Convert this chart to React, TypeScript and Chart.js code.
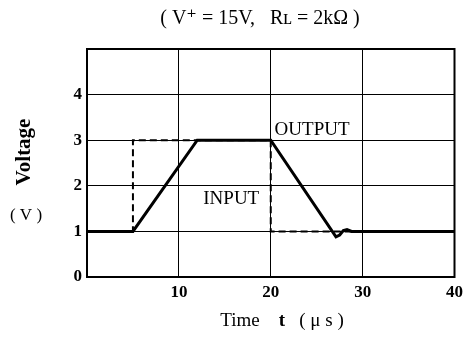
import React, { useEffect, useRef } from "react";
import { Chart, registerables } from "chart.js";

Chart.register(...registerables);

const inputT = [0, 5, 5, 20, 20, 40];
const inputV = [1, 1, 3, 3, 1, 1];
const outputT = [0, 5, 12, 20, 27.1, 27.5, 27.9, 28.3, 28.8, 40];
const outputV = [1, 1, 3, 3, 0.88, 0.92, 1.02, 1.04, 1, 1];
const xTicks = [10, 20, 30, 40];
const yTicks = [0, 1, 2, 3, 4];

const SERIF = "'Liberation Serif', 'DejaVu Serif', serif";

const textPlugin = {
  id: "texts",
  afterDraw(chart: any) {
    const { ctx, chartArea, scales } = chart;
    const x = scales.x;
    const y = scales.y;
    ctx.save();
    // frame
    ctx.strokeStyle = "#000";
    ctx.lineWidth = 2;
    ctx.strokeRect(chartArea.left, chartArea.top, chartArea.right - chartArea.left, chartArea.bottom - chartArea.top);
    ctx.fillStyle = "#000";
    ctx.textAlign = "center";
    ctx.textBaseline = "middle";
    // subtitle
    ctx.font = `20px ${SERIF}`;
    ctx.fillText("( V\u207A = 15V,   R\u029F = 2k\u03A9 )", 260, 19);
    // labels
    ctx.font = `19px ${SERIF}`;
    ctx.fillText("OUTPUT", x.getPixelForValue(24.5), y.getPixelForValue(3.22));
    ctx.fillText("INPUT", x.getPixelForValue(15.7), y.getPixelForValue(1.71));
    // y title
    ctx.save();
    ctx.translate(25, 152);
    ctx.rotate(-Math.PI / 2);
    ctx.font = `bold 21px ${SERIF}`;
    ctx.fillText("Voltage", 0, 0);
    ctx.restore();
    ctx.font = `17px ${SERIF}`;
    ctx.fillText("( V )", 26, 216);
    // x title, with bold "t"
    const parts = [
      { s: "Time    ", f: `19px ${SERIF}` },
      { s: "t", f: `bold 19px ${SERIF}` },
      { s: "   ( \u03BC s )", f: `19px ${SERIF}` },
    ];
    let total = 0;
    for (const p of parts) { ctx.font = p.f; total += ctx.measureText(p.s).width; }
    let cx = 282 - total / 2;
    ctx.textAlign = "left";
    for (const p of parts) {
      ctx.font = p.f;
      ctx.fillText(p.s, cx, 321);
      cx += ctx.measureText(p.s).width;
    }
    ctx.restore();
  },
};

export default function App() {
  const ref = useRef<HTMLCanvasElement>(null);
  useEffect(() => {
    if (!ref.current) return;
    const chart = new Chart(ref.current, {
      type: "line",
      data: {
        datasets: [
          {
            label: "OUTPUT",
            data: outputT.map((t, i) => ({ x: t, y: outputV[i] })),
            borderColor: "#000",
            borderWidth: 3,
            pointRadius: 0,
            tension: 0,
            order: 0,
          },
          {
            label: "INPUT",
            data: inputT.map((t, i) => ({ x: t, y: inputV[i] })),
            borderColor: "#000",
            borderWidth: 2,
            borderDash: [7, 4],
            pointRadius: 0,
            tension: 0,
            order: 1,
          },
        ],
      },
      options: {
        animation: false,
        responsive: false,
        layout: { padding: { top: 49, right: 12, left: 0, bottom: 0 } },
        plugins: { legend: { display: false }, title: { display: false }, tooltip: { enabled: false } },
        scales: {
          x: {
            type: "linear",
            min: 0,
            max: 40,
            afterFit: (s: any) => { s.height = 61; },
            afterBuildTicks: (s: any) => { s.ticks = [0, ...xTicks].map((v) => ({ value: v })); },
            ticks: {
              padding: 5,
              color: "#000",
              font: { family: SERIF, size: 17, weight: "bold" },
              callback: (v: any) => (v === 0 ? "" : String(v)),
            },
            grid: { color: "#000", lineWidth: 1, drawTicks: false },
            border: { display: true, color: "#000", width: 2 },
          },
          y: {
            type: "linear",
            min: 0,
            max: 5,
            afterFit: (s: any) => { s.width = 87; },
            afterBuildTicks: (s: any) => { s.ticks = [...yTicks, 5].map((v) => ({ value: v })); },
            ticks: {
              padding: 5,
              color: "#000",
              font: { family: SERIF, size: 17, weight: "bold" },
              callback: (v: any) => (v === 5 ? "" : String(v)),
            },
            grid: { color: "#000", lineWidth: 1, drawTicks: false },
            border: { display: true, color: "#000", width: 2 },
          },
        },
      },
      plugins: [textPlugin],
    });
    return () => chart.destroy();
  }, []);
  return (
    <div style={{ position: "absolute", left: 0, top: 0, width: 468, height: 338, background: "#fff" }}>
      <canvas ref={ref} width={468} height={338} />
    </div>
  );
}
